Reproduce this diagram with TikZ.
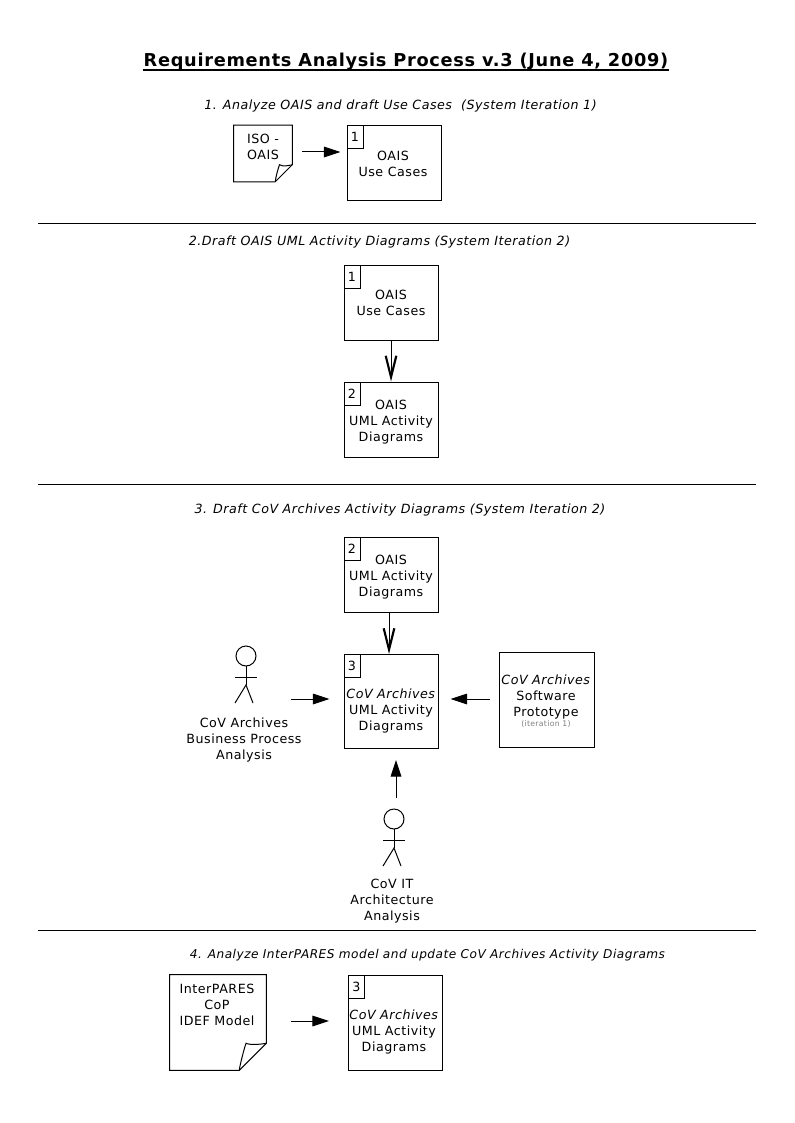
\documentclass[tikz,border=0pt]{standalone}
\usepackage{fontspec}
\setmainfont[LetterSpace=4]{DejaVu Sans}
\usetikzlibrary{arrows.meta}

\tikzset{
    boxnode/.style={draw, line width=0.75pt, inner sep=0pt, minimum width=70.5pt, minimum height=56.25pt},
    numnode/.style={draw, line width=0.75pt, anchor=north west, inner sep=0pt, minimum width=12pt, minimum height=17.25pt, font=\fontsize{9.5}{12}\selectfont},
    textnode/.style={align=center, inner sep=0pt, yshift=-1.2pt, font=\fontsize{9.5}{12}\selectfont},
    headnode/.style={inner sep=0pt, yshift=-1.2pt, font=\fontsize{9.5}{12}\selectfont\itshape},
    docnode/.style={inner sep=0pt},
    solidtip/.style={line width=0.75pt, -{Triangle[length=12.5pt, width=8pt]}},
    opentip/.style={line width=0.75pt, -{Straight Barb[length=16pt, width=8pt, line width=1.6pt]}},
    actor/.pic={
        \draw[line width=0.75pt] (0,0) circle [radius=10];
        \draw[line width=0.75pt] (0,10) -- (0,29);
        \draw[line width=0.75pt] (-11,21) -- (11,21);
        \draw[line width=0.75pt] (-11,47) -- (0,29) -- (7,47);
    }
}

% the document outline with its turned corner
\newcommand{\drawdoc}[2]{
    \draw[line width=0.75pt] (#1.north west) -- (#1.north east) -- ([yshift=#2*0.75pt]#1.south east)
        -- ([xshift=-#2*0.75pt]#1.south east) -- (#1.south west) -- cycle;
    \draw[line width=0.75pt] ([xshift=-#2*0.75pt]#1.south east)
        .. controls +(0.5,-5) and +(-1.5,4) .. ([xshift=-#2*0.75*0.75pt, yshift=#2*0.75pt]#1.south east)
        .. controls +(4,2) and +(-5,1) .. ([yshift=#2*0.75pt]#1.south east);
}

\begin{document}
\begin{tikzpicture}[x=0.75pt, y=-0.75pt]
    \useasboundingbox (0,0) rectangle (794,1123);

    % The title and its underline
    \node[inner sep=0pt, anchor=base, font=\fontsize{13.3}{16}\selectfont\bfseries] (title) at (406,66.5)
        {Requirements Analysis Process v.3 (June 4, 2009)};
    \draw[line width=1.5pt] ([yshift=-3pt]title.base west) -- ([yshift=-3pt]title.base east);

    % The lines between the steps
    \coordinate (lineAl) at (38,223.5);
    \coordinate (lineAr) at (756,223.5);
    \coordinate (lineBl) at (38,484);
    \coordinate (lineBr) at (756,484);
    \coordinate (lineCl) at (38,930);
    \coordinate (lineCr) at (756,930);
    \draw[line width=0.75pt] (lineAl) -- (lineAr);
    \draw[line width=0.75pt] (lineBl) -- (lineBr);
    \draw[line width=0.75pt] (lineCl) -- (lineCr);

    % Step 1
    \node[headnode] (headA) at (400.5,104) {1. Analyze OAIS and draft Use Cases~ (System Iteration 1)};
    \node[docnode, minimum width=43.5pt, minimum height=42pt] (iso) at (263,153.5) {};
    \drawdoc{iso}{17}
    \node[textnode] (isotext) at (263,145.5) {ISO -\\OAIS};
    \node[boxnode] (useA) at (394,163) {};
    \node[numnode] (numA) at (useA.north west) {1};
    \node[textnode] (useAtext) at (393,162) {OAIS\\Use Cases};
    \coordinate (isoout) at (302,152);
    \draw[solidtip, shorten >=4.5pt] (isoout) -- (isoout -| useA.west);

    % Step 2
    \node[headnode] (headB) at (379.5,240) {2.Draft OAIS UML Activity Diagrams (System Iteration 2)};
    \node[boxnode] (useB) at (391,302.5) {};
    \node[numnode] (numB) at (useB.north west) {1};
    \node[textnode] (useBtext) at (391,301.5) {OAIS\\Use Cases};
    \node[boxnode] (umlA) at (391,419.5) {};
    \node[numnode] (numC) at (umlA.north west) {2};
    \node[textnode] (umlAtext) at (391,420.5) {OAIS\\UML Activity\\Diagrams};
    \draw[opentip] (useB.south) -- (umlA.north);

    % Step 3
    \node[headnode] (headC) at (400,508) {3. Draft CoV Archives Activity Diagrams (System Iteration 2)};
    \node[boxnode] (umlB) at (391,574.5) {};
    \node[numnode] (numD) at (umlB.north west) {2};
    \node[textnode] (umlBtext) at (391,575.5) {OAIS\\UML Activity\\Diagrams};
    \node[boxnode, minimum height=70.5pt] (covA) at (391,701.5) {};
    \node[numnode] (numE) at (covA.north west) {3};
    \node[textnode] (covAtext) at (391,709) {\textit{CoV Archives}\\UML Activity\\Diagrams};
    \draw[opentip] ([xshift=-1.5pt]umlB.south) -- ([xshift=-1.5pt]covA.north);

    % The prototype on the right
    \node[boxnode, minimum width=71.25pt, minimum height=71.25pt] (proto) at (546.5,699.5) {};
    \node[textnode] (prototext) at (546,695) {\textit{CoV Archives}\\Software\\Prototype};
    \node[inner sep=0pt, text=gray, font=\fontsize{5.8}{6}\selectfont] (protonote) at (546,724) {(iteration 1)};
    \coordinate (protoout) at (490,699);
    \draw[solidtip, shorten >=9pt] (protoout) -- (protoout -| covA.east);

    % The actor on the left
    \pic at (246,656) {actor};
    \node[textnode] (actorAtext) at (244,738) {CoV Archives\\Business Process\\Analysis};
    \coordinate (actorAout) at (291,699);
    \draw[solidtip, shorten >=10.5pt] (actorAout) -- (actorAout -| covA.west);

    % The actor below
    \pic at (394,819) {actor};
    \node[textnode] (actorBtext) at (392,900) {CoV IT\\Architecture\\Analysis};
    \coordinate (actorBout) at (396,798);
    \draw[solidtip, shorten >=8.25pt] (actorBout) -- (actorBout |- covA.south);

    % Step 4
    \node[headnode, font=\fontsize{9.1}{12}\selectfont\itshape] (headD) at (427.5,954) {4. Analyze InterPARES model and update CoV Archives Activity Diagrams};
    \node[docnode, minimum width=72pt, minimum height=71.25pt] (ipares) at (218,1022.5) {};
    \drawdoc{ipares}{27}
    \node[textnode] (iparestext) at (217,1003) {InterPARES\\CoP\\IDEF Model};
    \node[boxnode, minimum height=71.25pt] (covB) at (395.5,1022.5) {};
    \node[numnode] (numF) at (covB.north west) {3};
    \node[textnode] (covBtext) at (394,1030) {\textit{CoV Archives}\\UML Activity\\Diagrams};
    \coordinate (iparesout) at (291,1021);
    \draw[solidtip, shorten >=14.25pt] (iparesout) -- (iparesout -| covB.west);
\end{tikzpicture}
\end{document}
